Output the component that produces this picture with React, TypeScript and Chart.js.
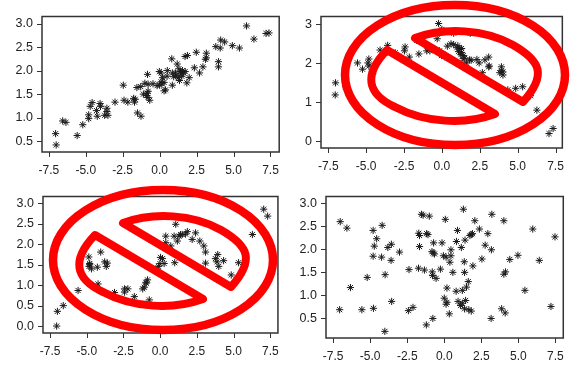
import React, { useEffect, useRef } from "react";
import { Chart, registerables } from "chart.js";

Chart.register(...registerables);

type Pt = [number, number];

const xTickValues = [-7.5, -5, -2.5, 0, 2.5, 5, 7.5];
const yTicksA = [0.5, 1, 1.5, 2, 2.5, 3];
const yTicksB = [0, 1, 2, 3];
const yTicksC = [0, 0.5, 1, 1.5, 2, 2.5, 3];

const pointsA: Pt[] = [
  [-7.04,.66],[-7,.42],[-6.56,.93],[-6.34,.9],[-5.58,.62],[-5.2,.85],[-4.8,1.06],[-4.8,.98],[-4.7,1.24],[-4.57,1.32],
  [-4.27,1.15],[-4.22,1.03],[-4.03,1.3],[-4,1.24],[-3.72,1.05],[-3.5,1.05],[-3.57,1.2],[-3.57,1.13],[-3.02,1.33],[-2.46,1.69],
  [-2.41,1.37],[-2.15,1.33],[-1.76,1.41],[-1.7,1.33],[-1.65,1.39],[-1.5,1.1],[-1.26,1.03],[-1.54,1.64],[-1.28,1.66],[-1.1,1.5],
  [-.84,1.52],[-.78,1.56],[-.67,1.37],[-.78,1.43],[-.9,1.47],[-1,1.73],[-.82,1.92],[-.78,1.71],[-.45,1.72],[-.17,1.68],
  [0,1.69],[.1,1.76],[-.02,1.98],[.1,1.95],[.2,1.85],[.3,1.57],[.4,1.59],[.5,1.88],[.86,1.69],[.82,2.25],
  [.52,2],[.86,1.95],[1.07,1.95],[1.19,2.14],[1.3,2.04],[1.41,1.98],[1.62,1.95],[1.73,1.98],[1.5,1.88],[1.34,1.79],
  [1.84,1.74],[2,1.85],[1.72,2.3],[1.88,2.32],[2.35,2.06],[2.48,2.39],[2.7,1.95],[2.93,2.08],[3.16,2.37],[3.16,2.27],
  [3.1,2.24],[3.98,2.19],[3.98,2.08],[3.8,2.51],[4.1,2.48],[4.13,2.65],[4.4,2.61],[4.92,2.53],[5.4,2.48],[5.88,2.95],
  [6.38,2.67],[7.2,2.79],[7.4,2.8],[1.1,1.9],[1.25,1.85],[1.45,1.93],[1.55,2],[.95,1.87],[.3,1.75],[.15,1.72],
];
const pointsB: Pt[] = [
  [-7.04,1.19],[-7.02,1.5],[-6.35,1.4],[-5.57,2.01],[-5.24,1.85],[-4.82,2.11],[-4.88,2.01],[-4.82,1.93],[-4.57,1.73],[-4.08,2.34],
  [-3.58,2.46],[-3.62,2.28],[-3.08,2.27],[-2.47,2.32],[-2.43,2.42],[-2.15,2.16],[-1.78,2.66],[-1.67,2.59],[-1.21,2.71],[-1.27,2.63],
  [-1.52,2.24],[-1,2.32],[-.75,2.38],[-.79,2.32],[-.22,3.02],[-.31,2.63],[-.02,2.83],[0,2.87],[.78,2.77],[1.87,2.77],
  [-.16,2.32],[.05,2.24],[-.02,2.2],[.36,2.14],[.36,2.44],[.78,2.48],[.99,2.4],[1.2,2.36],[1.3,2.28],[1.41,2.2],
  [1.51,2.13],[1.62,2.01],[1.51,1.95],[1.83,2.09],[1.93,2.08],[2.31,2.1],[2.46,2.01],[2.67,1.76],[2.84,2.09],[3.09,2.16],
  [3.13,1.93],[3.09,1.91],[3.93,1.91],[3.93,1.81],[3.82,1.76],[4.03,1.7],[4.03,1.78],[4.35,1.32],[4.87,1.36],[5.33,1.4],
  [5.85,1.17],[6.27,.8],[7.07,.2],[7.34,.33],[1.1,2.3],[1.25,2.22],[1.4,2.12],[1.3,2.38],[.6,2.5],[1.05,2.45],
];
const pointsC: Pt[] = [
  [-7.05,0],[-7,.36],[-6.6,.5],[-5.59,.87],[-4.86,1.69],[-4.8,1.5],[-4.84,1.46],[-4.68,1.4],[-4.8,1.53],[-4.28,1.44],
  [-4.05,1.81],[-4.23,1.03],[-3.78,1.57],[-3.6,1.54],[-3.67,1.46],[-3.11,.82],[-2.43,.91],[-2.2,.91],[-2.43,.83],[-1.76,.72],
  [-1.19,.91],[-1.08,.95],[-.86,1.13],[-.97,1.07],[-.74,.64],[-.29,1.4],[-.11,1.46],[-.02,1.53],[.16,1.65],[.02,1.68],
  [.27,1.53],[.38,2.2],[.38,2.04],[.72,1.96],[.95,2.2],[.99,1.55],[1.28,2.2],[1.5,2.24],[1.73,2.25],[1.85,2.31],
  [1.39,2.24],[1.17,2.08],[2.18,2.12],[2.41,2.28],[2.7,2.08],[2.97,1.96],[3.09,1.81],[3.09,1.54],[3.76,1.65],[3.92,1.75],
  [3.87,1.57],[3.99,1.46],[4.32,1.6],[4.84,1.25],[5.34,1.55],[6.28,2.24],[7.05,2.86],[7.32,2.69],[1.06,2.49],[-.95,1.05],
];
const pointsD: Pt[] = [
  [-7.02,2.6],[-6.57,2.46],[-7.06,.69],[-6.33,1.17],[-5.56,.69],[-5.2,1.39],[-4.8,2.41],[-4.19,2.52],[-4.56,2.23],[-4.72,2.07],
  [-4.8,1.85],[-4.23,1.83],[-3.81,2.04],[-3.57,2.11],[-3.02,1.94],[-3.59,1.76],[-3.99,1.45],[-4.78,.72],[-3.55,.87],[-4.01,.22],
  [-2.42,.67],[-2.11,.74],[-2.38,1.56],[-1.74,1.59],[-1.34,1.55],[-1.72,2.35],[-1.67,2.3],[-1.67,2.06],[-1.54,2.76],[-1.43,2.74],
  [-1.01,2.72],[-1.19,2.34],[-1.1,2.32],[-.72,2.14],[-.15,2.14],[-.83,1.95],[-.75,1.92],[-.66,1.9],[.07,2.65],[-.06,1.86],
  [.12,1.83],[.45,1.99],[.45,1.86],[.38,1.72],[-.81,1.51],[-.79,1.43],[-.55,1.37],[-.26,1.57],[.58,1.5],[1.29,2.87],
  [.89,2.41],[.82,2.17],[1.15,2.04],[1.4,2.2],[1.35,1.73],[1.37,1.5],[1.93,1.64],[2.06,2.62],[2.37,2.44],[1.73,2.3],
  [1.82,2.32],[1.9,2.34],[2.54,1.79],[2.76,2.09],[2.94,2.34],[3.18,1.99],[3.21,2.76],[4.02,2.62],[4.02,1.46],[4.13,1.51],
  [4.42,1.78],[4.97,1.87],[5.44,1.11],[5.97,2.44],[6.41,1.76],[7.2,.76],[7.47,2.27],[.18,1.16],[.8,1.09],[1.22,1.11],
  [1.5,1.18],[1.62,1.3],[0,.94],[.12,.81],[.18,.85],[.34,.6],[-.77,.5],[-1.21,.36],[.93,.87],[1.1,.78],
  [1.22,.83],[1.44,.89],[1.37,.71],[1.66,.69],[1.82,.66],[3.16,.5],[3.87,.71],[4.11,.62],
];

const sign = (ctx: CanvasRenderingContext2D, cx: number, cy: number) => {
  ctx.save();
  ctx.translate(cx, cy);
  ctx.strokeStyle = "#ff0000";
  ctx.lineWidth = 8.5;
  ctx.lineJoin = "round";
  ctx.beginPath();
  ctx.ellipse(0, 0, 110, 70, 0, 0, Math.PI * 2);
  ctx.stroke();
  ctx.lineWidth = 8;
  ctx.beginPath();
  ctx.moveTo(-40, -37);
  ctx.bezierCurveTo(-10, -48, 30, -46, 58, -30);
  ctx.bezierCurveTo(86, -14, 92, 0, 68, 27);
  ctx.closePath();
  ctx.stroke();
  ctx.beginPath();
  ctx.moveTo(-68, -25);
  ctx.bezierCurveTo(-92, 0, -88, 19, -60, 32);
  ctx.bezierCurveTo(-30, 48, 10, 50, 40, 39);
  ctx.closePath();
  ctx.stroke();
  ctx.restore();
};

type PanelCfg = {
  left: number; top: number; width: number; height: number;
  frame: [number, number, number, number];
  xRange: [number, number]; yRange: [number, number];
  yTicks: number[]; points: Pt[]; signAt?: [number, number];
};

const panels: PanelCfg[] = [
  { left: 0, top: 0, width: 290, height: 180, frame: [42, 3, 287, 152], xRange: [-7.96, 8.09], yRange: [0.27, 3.15], yTicks: yTicksA, points: pointsA },
  { left: 290, top: 0, width: 285, height: 180, frame: [31, 4, 284, 148], xRange: [-7.98, 7.95], yRange: [-0.17, 3.2], yTicks: yTicksB, points: pointsB, signAt: [165, 75] },
  { left: 0, top: 180, width: 290, height: 188, frame: [43, 10, 279, 153], xRange: [-7.98, 8.02], yRange: [-0.17, 3.17], yTicks: yTicksC, points: pointsC, signAt: [163, 80] },
  { left: 290, top: 180, width: 285, height: 188, frame: [36, 11, 278, 158], xRange: [-7.98, 8.03], yRange: [0.076, 3.146], yTicks: yTicksA, points: pointsD },
];

function Panel({ cfg }: { cfg: PanelCfg }) {
  const ref = useRef<HTMLCanvasElement>(null);
  useEffect(() => {
    const [fl, ft, fr, fb] = cfg.frame;
    const overlay = {
      id: "overlay",
      afterDatasetsDraw(chart: any) {
        const { ctx, chartArea: a } = chart;
        ctx.save();
        ctx.strokeStyle = "#333333";
        ctx.lineWidth = 1.5;
        ctx.strokeRect(a.left, a.top, a.right - a.left, a.bottom - a.top);
        ctx.restore();
        if (cfg.signAt) sign(ctx, cfg.signAt[0], cfg.signAt[1]);
      },
    };
    const family = "'Liberation Sans', Arial, sans-serif";
    const chart = new Chart(ref.current as HTMLCanvasElement, {
      type: "scatter",
      data: {
        datasets: [{
          data: cfg.points.map(([x, y]) => ({ x, y })),
          pointStyle: "star",
          radius: 3.6,
          borderColor: "#1a1a1a",
          backgroundColor: "#1a1a1a",
          borderWidth: 1,
          clip: false,
        } as any],
      },
      options: {
        animation: false,
        responsive: false,
        layout: { padding: { top: ft, right: cfg.width - fr, left: 0, bottom: 0 } },
        plugins: { legend: { display: false }, title: { display: false }, tooltip: { enabled: false } },
        scales: {
          x: {
            type: "linear", min: cfg.xRange[0], max: cfg.xRange[1],
            grid: { display: false, drawTicks: false },
            border: { display: false },
            ticks: { color: "#222222", font: { family, size: 12 }, autoSkip: false, maxRotation: 0, padding: 11, callback: (v: any) => Number(v).toFixed(1) },
            afterBuildTicks: (axis: any) => { axis.ticks = xTickValues.map((value) => ({ value })); },
            afterFit: (s: any) => { s.height = cfg.height - fb; },
          },
          y: {
            type: "linear", min: cfg.yRange[0], max: cfg.yRange[1],
            grid: { display: false, drawTicks: false },
            border: { display: false },
            ticks: { color: "#222222", font: { family, size: 12.5 }, autoSkip: false, padding: 9, callback: (v: any) => Number(v).toFixed(cfg.yTicks === yTicksB ? 0 : 1) },
            afterBuildTicks: (axis: any) => { axis.ticks = cfg.yTicks.map((value) => ({ value })); },
            afterFit: (s: any) => { s.width = fl; },
          },
        },
      } as any,
      plugins: [overlay, {
        id: "tickMarks",
        afterDraw(chart: any) {
          const { ctx, chartArea: a, scales } = chart;
          ctx.save();
          ctx.strokeStyle = "#333333";
          ctx.lineWidth = 1;
          ctx.beginPath();
          xTickValues.forEach((v) => { const p = Math.round(scales.x.getPixelForValue(v)) + 0.5; ctx.moveTo(p, a.bottom); ctx.lineTo(p, a.bottom + 5); });
          cfg.yTicks.forEach((v) => { const p = Math.round(scales.y.getPixelForValue(v)) + 0.5; ctx.moveTo(a.left, p); ctx.lineTo(a.left - 5, p); });
          ctx.stroke();
          ctx.restore();
        },
      }],
    });
    return () => chart.destroy();
  }, [cfg]);
  return (
    <canvas
      ref={ref}
      width={cfg.width}
      height={cfg.height}
      style={{ position: "fixed", left: cfg.left, top: cfg.top, width: cfg.width, height: cfg.height }}
    />
  );
}

export default function App() {
  return (
    <div style={{ position: "fixed", inset: 0, background: "#ffffff", overflow: "hidden" }}>
      {panels.map((cfg, i) => <Panel key={i} cfg={cfg} />)}
    </div>
  );
}
